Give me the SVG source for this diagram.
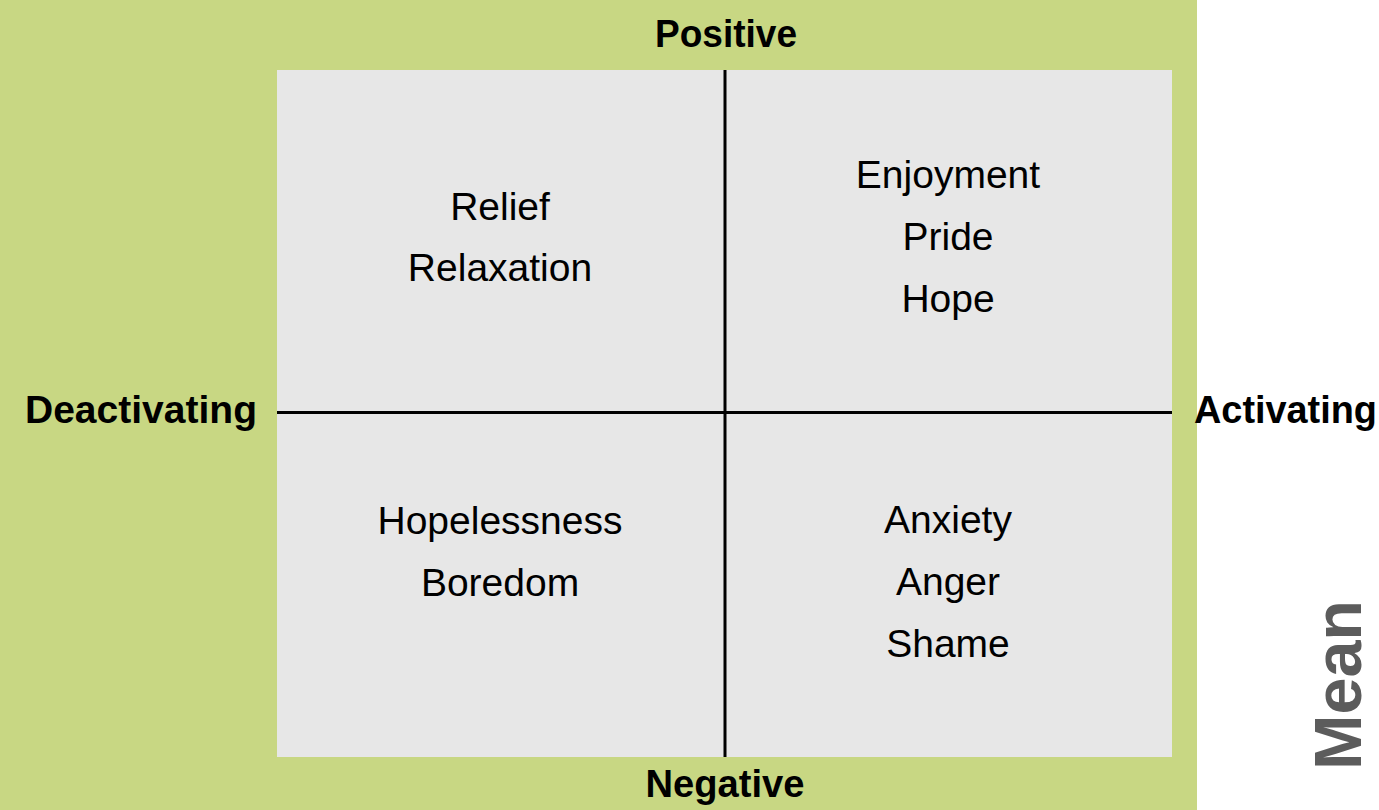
<svg xmlns="http://www.w3.org/2000/svg" width="1379" height="810" viewBox="0 0 1379 810">
<style>
.q{font-family:"Liberation Sans",Arial,sans-serif;font-size:39px;fill:#000;text-anchor:middle}
.ax{font-family:"Liberation Sans",Arial,sans-serif;font-size:38px;font-weight:bold;fill:#000}
.axis{stroke:#000;stroke-width:3;fill:none}
</style>
<rect x="0" y="0" width="1379" height="810" fill="#ffffff"/>
<rect id="background" x="0" y="0" width="1197" height="810" fill="#c8d783"/>
<rect id="plot" x="277" y="70" width="895" height="687" fill="#e7e7e7"/>
<g id="connectors">
<line class="axis" x1="725" y1="70" x2="725" y2="757"/>
<line class="axis" x1="277" y1="412.5" x2="1172" y2="412.5"/>
</g>
<g id="positive"><text class="ax" x="726" y="47" text-anchor="middle" textLength="142" lengthAdjust="spacingAndGlyphs">Positive</text></g>
<g id="negative"><text class="ax" x="725" y="797" text-anchor="middle" textLength="159" lengthAdjust="spacingAndGlyphs">Negative</text></g>
<g id="deactivating"><text class="ax" x="25" y="423" textLength="232" lengthAdjust="spacingAndGlyphs">Deactivating</text></g>
<g id="activating"><text class="ax" x="1194" y="423" textLength="183" lengthAdjust="spacingAndGlyphs">Activating</text></g>
<g id="q-top-left">
<text class="q" x="500" y="220">Relief</text>
<text class="q" x="500" y="281">Relaxation</text>
</g>
<g id="q-top-right">
<text class="q" x="948" y="188">Enjoyment</text>
<text class="q" x="948" y="250">Pride</text>
<text class="q" x="948" y="312">Hope</text>
</g>
<g id="q-bottom-left">
<text class="q" x="500" y="534">Hopelessness</text>
<text class="q" x="500" y="596">Boredom</text>
</g>
<g id="q-bottom-right">
<text class="q" x="948" y="533">Anxiety</text>
<text class="q" x="948" y="595">Anger</text>
<text class="q" x="948" y="657">Shame</text>
</g>
<g id="mean"><text transform="translate(1361,770) rotate(-90)" x="0" y="0" font-family="Liberation Sans, Arial, sans-serif" font-size="66" font-weight="bold" fill="#5c5c5c" textLength="170" lengthAdjust="spacingAndGlyphs">Mean</text></g>
</svg>
